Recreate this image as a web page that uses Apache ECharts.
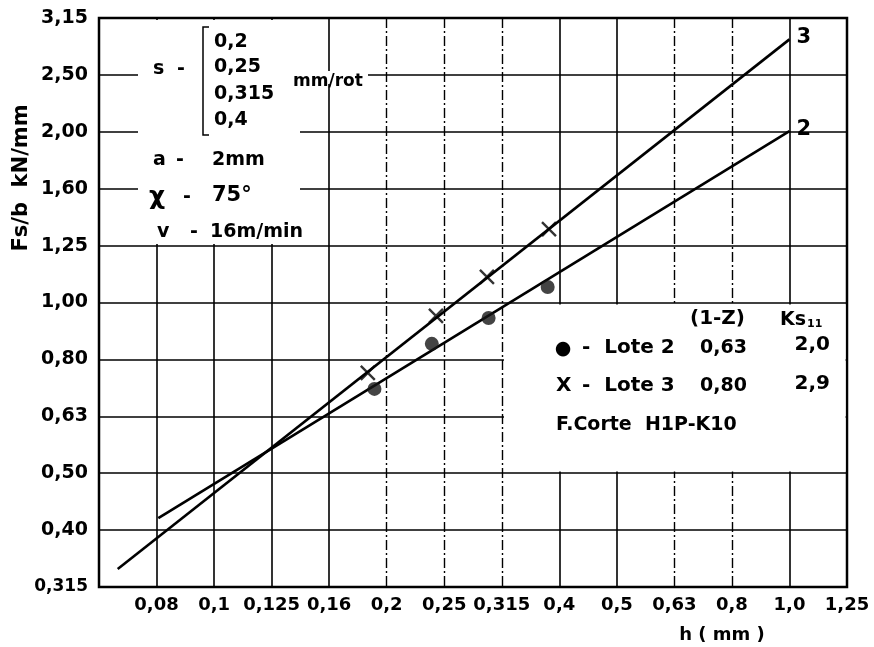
<!DOCTYPE html>
<html>
<head>
<meta charset="utf-8">
<script src="https://cdn.jsdelivr.net/npm/echarts@6/dist/echarts.min.js"></script>
<style>
  html, body { margin: 0; padding: 0; background: #fff; }
  #chart { width: 874px; height: 647px; }
</style>
</head>
<body>
<div id="chart"></div>
<script>
// Tick labels: Renard R10 steps, evenly spaced on the log axes
const xTickLabels = ['0,063', '0,08', '0,1', '0,125', '0,16', '0,2', '0,25', '0,315', '0,4', '0,5', '0,63', '0,8', '1,0', '1,25'];
const yTickLabels = ['0,315', '0,40', '0,50', '0,63', '0,80', '1,00', '1,25', '1,60', '2,00', '2,50', '3,15'];
// vertical grid lines that are drawn dash-dot
const xDashed = ['0,2', '0,25', '0,315', '0,63', '0,8'];

// measured chip thickness h (mm) and specific cutting force Fs/b (kN/mm)
const lote2H = [0.190, 0.239, 0.300, 0.380];
const lote2F = [0.705, 0.846, 0.939, 1.065];
const lote3H = [0.185, 0.243, 0.298, 0.382];
const lote3F = [0.752, 0.947, 1.109, 1.346];

// fitted lines Fs/b = Ks11 * h^(1-z), ending at h = 1 mm where Fs/b = Ks11
const lotNames = ['Lote 2', 'Lote 3'];
const lineTags = ['2', '3'];
const exponent = [0.63, 0.80];
const ks11 = [2.0, 2.9];
const lineStartH = [0.08, 0.068];
const lineStartF = [0.418, 0.340];
const lineEndH = 1.0;

const FONT = 'DejaVu Sans';
const comma = (v, d) => v.toFixed(d).replace('.', ',');

const chart = echarts.init(document.getElementById('chart'), null, { renderer: 'canvas' });

const fitSeries = lineTags.map((tag, i) => ({
  type: 'line',
  xAxisIndex: 0,
  yAxisIndex: 0,
  z: 5,
  symbol: 'none',
  data: [[lineStartH[i], lineStartF[i]], [lineEndH, ks11[i]]],
  lineStyle: { color: '#000', width: 2.6 },
  endLabel: {
    show: true,
    formatter: tag,
    color: '#000',
    fontFamily: FONT,
    fontWeight: 'bold',
    fontSize: 21,
    distance: 7,
    offset: [0, -2]
  }
}));

const pointSeries = [
  {
    type: 'scatter',
    name: lotNames[0],
    xAxisIndex: 0,
    yAxisIndex: 0,
    z: 6,
    symbol: 'circle',
    symbolSize: 14,
    itemStyle: { color: '#151515' },
    data: lote2H.map((h, i) => [h, lote2F[i]])
  },
  {
    type: 'scatter',
    name: lotNames[1],
    xAxisIndex: 0,
    yAxisIndex: 0,
    z: 6,
    symbol: 'path://M0,0L10,10M10,0L0,10',
    symbolSize: 14,
    itemStyle: { color: 'transparent', borderColor: '#000', borderWidth: 2.4 },
    data: lote3H.map((h, i) => [h, lote3F[i]])
  }
];

function txt(text, x, y, size, align, extra) {
  return Object.assign({
    type: 'text',
    z: 10,
    x: x,
    y: y,
    style: {
      text: text,
      fill: '#000',
      fontFamily: FONT,
      fontWeight: 'bold',
      fontSize: size,
      align: align || 'left',
      verticalAlign: 'middle'
    }
  }, extra || {});
}

const white = (x, y, w, h) => ({
  type: 'rect', z: 1, silent: true,
  shape: { x: x, y: y, width: w, height: h },
  style: { fill: '#fff' }
});

const graphics = [
  // clear the grid behind the text blocks
  white(138, 20, 162, 224),
  white(300, 71, 68, 13),
  white(504, 304.5, 341.5, 167),

  // cutting conditions
  txt('s', 153, 69, 19),
  txt('-', 177, 69, 19),
  { type: 'polyline', z: 10, shape: { points: [[209, 27], [203, 27], [203, 135], [209, 135]] },
    style: { stroke: '#000', lineWidth: 1.5, fill: null } },
  txt('0,2', 214, 42, 19),
  txt('0,25', 214, 67, 19),
  txt('0,315', 214, 94, 19),
  txt('0,4', 214, 120, 19),
  txt('mm/rot', 293, 82, 17),
  txt('a', 153, 160, 19),
  txt('-', 176, 160, 19),
  txt('2mm', 212, 160, 19),
  txt('χ', 149, 197, 25),
  txt('-', 183, 197, 19),
  txt('75°', 212, 196, 21),
  txt('v', 157, 232, 19),
  txt('-', 190, 232, 19),
  txt('16m/min', 210, 232, 19),

  // table of fit parameters
  txt('(1-Z)', 690, 319, 20),
  {
    type: 'text', z: 10, x: 780, y: 320,
    style: {
      text: '{k|Ks}{s|11}',
      fill: '#000',
      verticalAlign: 'middle',
      rich: {
        k: { fontFamily: FONT, fontWeight: 'bold', fontSize: 19, fill: '#000' },
        s: { fontFamily: FONT, fontWeight: 'bold', fontSize: 11, fill: '#000', padding: [8, 0, 0, 1] }
      }
    }
  },
  txt('●', 563, 349, 19, 'center'),
  txt('-  ' + lotNames[0], 582, 348, 20),
  txt(comma(exponent[0], 2), 700, 348, 19),
  txt(comma(ks11[0], 1), 830, 345, 20, 'right'),
  txt('X', 556, 386, 20),
  txt('-  ' + lotNames[1], 582, 386, 20),
  txt(comma(exponent[1], 2), 700, 386, 19),
  txt(comma(ks11[1], 1), 830, 384, 20, 'right'),
  txt('F.Corte  H1P-K10', 556, 425, 19),

  // axis titles
  txt('Fs/b  kN/mm', 22, 178, 21, 'center', { rotation: Math.PI / 2 }),
  txt('h ( mm )', 722, 635, 18, 'center')
];

const option = {
  animation: false,
  backgroundColor: '#fff',
  grid: {
    left: 99, right: 27, top: 18, bottom: 60,
    show: true, borderColor: '#000', borderWidth: 2.5, backgroundColor: 'transparent'
  },
  xAxis: [
    { type: 'log', min: Math.pow(10, -1.2), max: Math.pow(10, 0.1), show: false },
    {
      type: 'category', data: xTickLabels, boundaryGap: false, position: 'bottom',
      axisLine: { show: false }, axisTick: { show: false },
      axisLabel: {
        interval: 0, margin: 9, color: '#000', fontFamily: FONT, fontWeight: 'bold', fontSize: 18,
        formatter: (v, i) => (i === 0 ? '' : v)
      },
      splitLine: {
        show: true,
        interval: (i, v) => i > 0 && i < xTickLabels.length - 1 && xDashed.indexOf(v) < 0,
        lineStyle: { color: '#000', width: 1.6 }
      }
    },
    {
      type: 'category', data: xTickLabels, boundaryGap: false, position: 'bottom',
      axisLine: { show: false }, axisTick: { show: false }, axisLabel: { show: false },
      splitLine: {
        show: true,
        interval: (i, v) => xDashed.indexOf(v) >= 0,
        lineStyle: { color: '#000', width: 1.4, type: [10, 3, 2, 3] }
      }
    }
  ],
  yAxis: [
    { type: 'log', min: Math.pow(10, -0.5), max: Math.pow(10, 0.5), show: false },
    {
      type: 'category', data: yTickLabels, boundaryGap: false, position: 'left',
      axisLine: { show: false }, axisTick: { show: false },
      axisLabel: {
        interval: 0, margin: 11, color: '#000', fontFamily: FONT, fontWeight: 'bold', fontSize: 19,
        // the bottom label is lettered a little narrower
        formatter: (v, i) => (i === 0 ? '{n|' + v + '}' : v),
        rich: { n: { fontFamily: FONT, fontWeight: 'bold', fontSize: 17, color: '#000' } }
      },
      splitLine: { show: true, lineStyle: { color: '#000', width: 1.6 } }
    }
  ],
  series: fitSeries.concat(pointSeries),
  graphic: { elements: graphics }
};

chart.setOption(option);
</script>
</body>
</html>
